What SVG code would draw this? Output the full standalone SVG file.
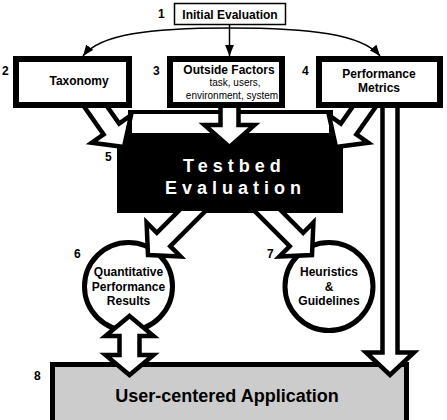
<svg xmlns="http://www.w3.org/2000/svg" width="447" height="420" viewBox="0 0 447 420">
<style>
.box{fill:#fff;stroke:#000;stroke-width:6}
.ba{fill:#fff;stroke:#000;stroke-width:4.5;stroke-linejoin:miter;stroke-miterlimit:10}
.thin{fill:none;stroke:#000;stroke-width:1.5}
.t{font-family:"Liberation Sans",Arial,sans-serif;font-weight:bold;font-size:12px;fill:#000}
.s{font-family:"Liberation Sans",Arial,sans-serif;font-size:10px;fill:#000}
.m{text-anchor:middle}
.big{font-family:"Liberation Sans",Arial,sans-serif;font-weight:bold;font-size:18px}
</style>
<defs>
<marker id="ah" viewBox="0 0 10 8" refX="10" refY="4" markerWidth="11" markerHeight="9" markerUnits="userSpaceOnUse" orient="auto"><path d="M0,0 L10,4 L0,8 z" fill="#000"/></marker>
<clipPath id="below"><rect x="0" y="211" width="447" height="209"/></clipPath>
</defs>
<rect width="447" height="420" fill="#fff"/>

<g id="n1">
<rect x="174.5" y="3.5" width="111" height="21" fill="#fff" stroke="#000" stroke-width="1.5"/>
<text class="t m" x="230" y="18.5">Initial Evaluation</text>
<text class="t" x="158" y="18">1</text>
</g>

<g id="n5">
<rect x="130" y="112" width="201" height="30" fill="#fff" stroke="#000" stroke-width="4"/>
<rect x="117" y="133" width="226" height="80" fill="#000"/>
<text class="big" x="183" y="171.5" fill="#fff" letter-spacing="5">Testbed</text>
<text class="big" x="165" y="193.5" fill="#fff" letter-spacing="5">Evaluation</text>
<text class="t" x="105" y="161">5</text>
</g>

<g id="n6">
<circle cx="128.5" cy="286.5" r="44" fill="#fff" stroke="#000" stroke-width="5"/>
<text class="t m" x="128.5" y="276">Quantitative</text>
<text class="t m" x="128.5" y="290.5">Performance</text>
<text class="t m" x="128.5" y="305">Results</text>
<text class="t" x="74" y="258">6</text>
</g>

<g id="n7">
<circle cx="329" cy="286.5" r="44" fill="#fff" stroke="#000" stroke-width="5"/>
<text class="t m" x="329" y="276">Heuristics</text>
<text class="t m" x="329" y="290.5">&amp;</text>
<text class="t m" x="329" y="305">Guidelines</text>
<text class="t" x="267" y="258">7</text>
</g>

<g id="n8">
<rect x="52.5" y="364.5" width="354" height="70" fill="#ccc" stroke="#000" stroke-width="5"/>
<text class="big m" x="227" y="401.5" fill="#000">User-centered Application</text>
<text class="t" x="34" y="380">8</text>
</g>

<g id="connectors">
<path class="thin" d="M229.5,28 C150,28 100,34 83,56" marker-end="url(#ah)"/>
<path class="thin" d="M229.5,28 C310,28 362,34 380,56" marker-end="url(#ah)"/>
<path class="thin" d="M229.5,25 L229.5,56" marker-end="url(#ah)"/>
<polygon class="ba" transform="translate(124,147) rotate(55)" points="0,0 -22,-24 -22,-9.5 -64,-9.5 -64,9.5 -22,9.5 -22,24"/>
<polygon class="ba" transform="translate(229.5,147) rotate(90)" points="0,0 -22,-25 -22,-9 -47,-9 -47,9 -22,9 -22,25"/>
<polygon class="ba" transform="translate(336,147) rotate(125)" points="0,0 -22,-24 -22,-9.5 -64,-9.5 -64,9.5 -22,9.5 -22,24"/>
<g clip-path="url(#below)">
<polygon class="ba" transform="translate(148,255) rotate(135)" points="0,0 -22,-24 -22,-9.5 -80,-9.5 -80,9.5 -22,9.5 -22,24"/>
<polygon class="ba" transform="translate(312,255) rotate(45)" points="0,0 -22,-24 -22,-9.5 -80,-9.5 -80,9.5 -22,9.5 -22,24"/>
</g>
<polygon class="ba" points="129.5,316 153.5,336 139.5,336 139.5,355 153.5,355 129.5,375 105.5,355 119.5,355 119.5,336 105.5,336"/>
<polygon class="ba" points="382.5,104 382.5,352.5 366,352.5 390,375 414,352.5 397.5,352.5 397.5,104"/>
</g>

<g id="n2">
<rect class="box" x="16" y="59" width="113" height="46"/>
<text class="t m" x="79" y="84.5">Taxonomy</text>
<text class="t" x="2" y="75">2</text>
</g>

<g id="n3">
<rect class="box" x="170" y="59" width="112" height="46"/>
<text class="t m" x="229" y="73.5">Outside Factors</text>
<text class="s m" x="235" y="86">task, users,</text>
<text class="s m" x="232" y="98.5">environment, system</text>
<text class="t" x="153" y="75">3</text>
</g>

<g id="n4">
<rect class="box" x="319" y="59" width="121" height="46"/>
<text class="t m" x="379" y="77.5">Performance</text>
<text class="t m" x="379" y="92">Metrics</text>
<text class="t" x="302" y="75">4</text>
</g>
</svg>
